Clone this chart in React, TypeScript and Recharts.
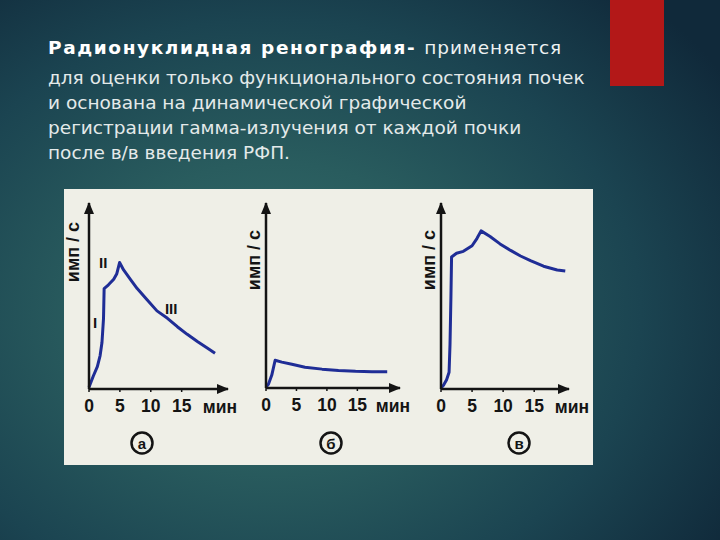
import { LineChart, Line, XAxis, YAxis, ReferenceDot } from "recharts";

// renogram (а) — normal kidney
const timeA = [0, 0.7, 1.35, 1.8, 2.1, 2.35, 2.45, 3.15, 4.0, 4.5, 4.95, 5.6, 6.7, 7.8, 9.4, 11.0, 12.7, 14.3, 15.9, 17.6, 19.2, 20.4];
const countsA = [1, 7, 12, 18, 25, 38, 54, 56, 59, 62, 68, 64, 59, 54, 48, 42, 38, 33.5, 29.4, 25.4, 21.9, 19.2];

// renogram (б)
const timeB = [0, 0.4, 0.95, 1.5, 2.6, 4.25, 6.4, 9.2, 11.9, 14.7, 17.4, 19.9];
const countsB = [0.5, 2, 7, 15, 14, 12.8, 11.2, 10.2, 9.5, 9, 8.8, 8.8];

// renogram (в)
const timeC = [0, 0.4, 0.9, 1.3, 1.45, 1.6, 1.7, 2.5, 3.6, 5.0, 5.8, 6.45, 7.9, 9.5, 11.2, 12.8, 14.4, 16.5, 18.7, 20];
const countsC = [0.5, 2, 5, 9, 24, 50, 71, 73, 74, 77, 81, 85, 82, 78, 74.5, 71.5, 69, 66, 64, 63.5];

const xTicks = [0, 5, 10, 15];
const phaseLabels = [
  { t: 1.0, v: 36, text: "I" },
  { t: 2.3, v: 68, text: "II" },
  { t: 13.3, v: 43.5, text: "III" },
];

const textLines = [
  "для оценки только функционального состояния почек",
  "и основана на динамической графической",
  "регистрации гамма-излучения от каждой почки",
  "после в/в введения РФП.",
];

const INK = "#141414";
const BLUE = "#1f2d96";
const FONT = "'Liberation Sans', Arial, sans-serif";

const zip = (t: number[], v: number[]) => t.map((x, i) => ({ t: x, v: v[i] }));

type PanelProps = {
  data: { t: number; v: number }[];
  xMax: number;
  plotW: number;
  plotH: number;
  left: number;
  minDx: number;
  yLabelX: number;
  yLabelY: number;
  phases?: boolean;
};

function Renogram({ data, xMax, plotW, plotH, left, minDx, yLabelX, yLabelY, phases }: PanelProps) {
  const m = { top: 14, left: 4, right: 24, bottom: 20 };
  const yw = 21;
  const w = m.left + yw + plotW + m.right;
  const h = m.top + plotH + 30 + m.bottom;
  return (
    <div style={{ position: "absolute", left, top: 189 }}>
      <LineChart width={w} height={h} data={data} margin={m}>
        <XAxis
          dataKey="t"
          type="number"
          domain={[0, xMax]}
          ticks={xTicks}
          height={30}
          stroke={INK}
          axisLine={{ stroke: INK, strokeWidth: 2.5 }}
          tickLine={{ stroke: INK, strokeWidth: 1.5 }}
          tickSize={3}
          tickMargin={8}
          tick={{ fill: INK, fontSize: 17.5, fontWeight: 700, fontFamily: FONT }}
          label={{
            content: (p: any) => (
              <text
                x={p.viewBox.x + p.viewBox.width + minDx}
                y={p.viewBox.y + 23.5}
                textAnchor="middle"
                fill={INK}
                fontSize={17.5}
                fontWeight={700}
                fontFamily={FONT}
              >
                мин
              </text>
            ),
          }}
        />
        <YAxis
          dataKey="v"
          type="number"
          domain={[0, 100]}
          width={yw}
          tick={false}
          tickLine={false}
          stroke={INK}
          axisLine={{ stroke: INK, strokeWidth: 2.5 }}
        />
        <Line
          dataKey="v"
          type="linear"
          stroke={BLUE}
          strokeWidth={3}
          strokeLinejoin="round"
          dot={false}
          isAnimationActive={false}
        />
        <ReferenceDot
          x={xMax}
          y={0}
          ifOverflow="visible"
          shape={(p: any) => (
            <polygon points={`${p.cx + 1},${p.cy} ${p.cx - 11},${p.cy - 5} ${p.cx - 11},${p.cy + 5}`} fill={INK} />
          )}
        />
        <ReferenceDot
          x={0}
          y={100}
          ifOverflow="visible"
          shape={(p: any) => (
            <polygon points={`${p.cx},${p.cy - 1} ${p.cx - 5},${p.cy + 11} ${p.cx + 5},${p.cy + 11}`} fill={INK} />
          )}
        />
        {phases &&
          phaseLabels.map((ph) => (
            <ReferenceDot
              key={ph.text}
              x={ph.t}
              y={ph.v}
              ifOverflow="visible"
              shape={(p: any) => (
                <text
                  x={p.cx}
                  y={p.cy}
                  textAnchor="middle"
                  dominantBaseline="central"
                  fill={INK}
                  fontSize={15}
                  fontWeight={700}
                  fontFamily={FONT}
                >
                  {ph.text}
                </text>
              )}
            />
          ))}
      </LineChart>
      <div
        style={{
          position: "absolute",
          left: yLabelX,
          top: yLabelY,
          transform: "translate(-50%, -50%) rotate(-90deg)",
          color: INK,
          fontSize: 18,
          fontWeight: 700,
          fontFamily: FONT,
          whiteSpace: "nowrap",
        }}
      >
        имп / с
      </div>
    </div>
  );
}

function Badge({ x, letter }: { x: number; letter: string }) {
  return (
    <svg style={{ position: "absolute", left: x - 13, top: 430 }} width={26} height={26}>
      <circle cx={13} cy={13} r={10.5} fill="none" stroke={INK} strokeWidth={2.5} />
      <text x={13} y={13.5} textAnchor="middle" dominantBaseline="central" fill={INK} fontSize={15} fontWeight={700} fontFamily={FONT}>
        {letter}
      </text>
    </svg>
  );
}

export default function App() {
  return (
    <div
      style={{
        position: "absolute",
        left: 0,
        top: 0,
        width: 720,
        height: 540,
        overflow: "hidden",
        background:
          "radial-gradient(ellipse 75% 80% at 38% 58%, #356e6c 0%, #295c5e 35%, #1b4451 68%, #10293a 100%)",
        fontFamily: "'DejaVu Sans', sans-serif",
      }}
    >
      {/* red accent */}
      <div style={{ position: "absolute", left: 610, top: 0, width: 54, height: 86, background: "#b31818" }} />

      {/* slide text */}
      <div style={{ position: "absolute", left: 48, top: 37, color: "#eef2f2", fontSize: 18.5, whiteSpace: "nowrap" }}>
        <span style={{ fontWeight: 700, color: "#ffffff", letterSpacing: 1.6 }}>Радионуклидная ренография- </span>
        <span style={{ letterSpacing: 0.9 }}>применяется</span>
      </div>
      {textLines.map((line, i) => (
        <div
          key={i}
          style={{
            position: "absolute",
            left: 48,
            top: 67 + i * 25,
            color: "#e4eaea",
            fontSize: 18.5,
            whiteSpace: "nowrap",
          }}
        >
          {line}
        </div>
      ))}

      {/* figure panel */}
      <div style={{ position: "absolute", left: 64, top: 189, width: 529, height: 276, background: "#efefe7" }} />

      <Renogram data={zip(timeA, countsA)} xMax={22.5} plotW={139} plotH={186} left={64} minDx={-8} yLabelX={9} yLabelY={63} phases />
      <Renogram data={zip(timeB, countsB)} xMax={22} plotW={134} plotH={185} left={241} minDx={-7} yLabelX={13} yLabelY={71} />
      <Renogram data={zip(timeC, countsC)} xMax={20.6} plotW={128} plotH={186} left={416} minDx={3} yLabelX={13} yLabelY={71} />

      <Badge x={142} letter="а" />
      <Badge x={331} letter="б" />
      <Badge x={519} letter="в" />
    </div>
  );
}
